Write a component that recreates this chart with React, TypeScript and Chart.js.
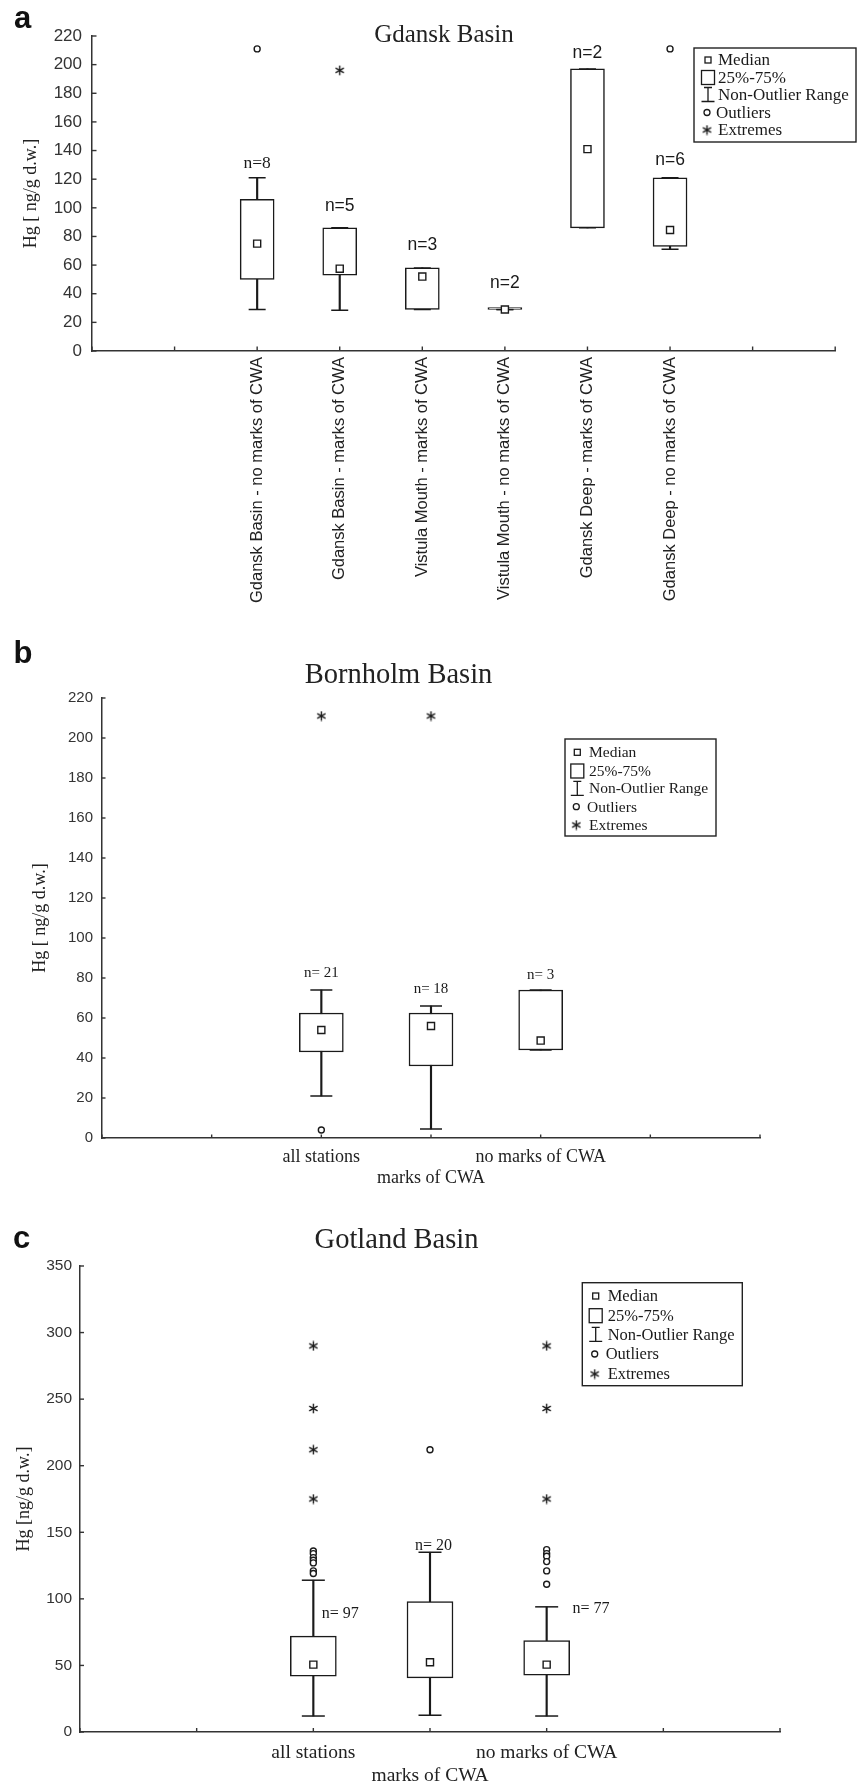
import React, { useEffect, useRef } from 'react';
import { Chart, registerables } from 'chart.js';

Chart.register(...registerables);

const SANS = '"Liberation Sans", Arial, sans-serif';
const SERIF = '"Liberation Serif", "Times New Roman", serif';

// ---------------- Panel a: Gdansk Basin ----------------
const A_X_TICKS = [0, 1, 2, 3, 4, 5, 6, 7, 8, 9];
const A_Y_TICKS = [0, 20, 40, 60, 80, 100, 120, 140, 160, 180, 200, 220];
const A_POSITIONS = [2, 3, 4, 5, 6, 7];
const A_CATEGORIES = [
  'Gdansk Basin - no marks of CWA',
  'Gdansk Basin - marks of CWA',
  'Vistula Mouth - marks of CWA',
  'Vistula Mouth - no marks of CWA',
  'Gdansk Deep - marks of CWA',
  'Gdansk Deep - no marks of CWA',
];
const A_MIN = [29, 28.5, 29, 29, 86, 71];
const A_Q1 = [50, 53, 29, 29, 86, 73];
const A_MEDIAN = [75, 57.5, 52, 29, 141, 84.5];
const A_Q3 = [106, 86, 58, 29, 197, 121];
const A_MAX = [121, 86, 58, 29, 197, 121];
const A_OUTLIER_X = [2, 7];
const A_OUTLIER_Y = [211, 211];
const A_EXTREME_X = [3];
const A_EXTREME_Y = [196];
const A_N_TEXT = ['n=8', 'n=5', 'n=3', 'n=2', 'n=2', 'n=6'];
const A_N_X = [2, 3, 4, 5, 6, 7];
const A_N_Y = [131, 101, 74, 47.5, 208, 133];

// ---------------- Panel b: Bornholm Basin ----------------
const B_X_TICKS = [0, 1, 2, 3, 4, 5, 6];
const B_Y_TICKS = [0, 20, 40, 60, 80, 100, 120, 140, 160, 180, 200, 220];
const B_POSITIONS = [2, 3, 4];
const B_CATEGORIES = ['all stations', 'marks of CWA', 'no marks of CWA'];
const B_MIN = [21, 4.5, 44];
const B_Q1 = [43, 36, 44];
const B_MEDIAN = [54, 56, 48.7];
const B_Q3 = [62.5, 62.5, 74];
const B_MAX = [74, 66, 74];
const B_OUTLIER_X = [2];
const B_OUTLIER_Y = [4];
const B_EXTREME_X = [2, 3];
const B_EXTREME_Y = [211, 211];
const B_N_TEXT = ['n= 21', 'n= 18', 'n= 3'];
const B_N_X = [2, 3, 4];
const B_N_Y = [82.5, 74.5, 81.5];

// ---------------- Panel c: Gotland Basin ----------------
const C_X_TICKS = [0, 1, 2, 3, 4, 5, 6];
const C_Y_TICKS = [0, 50, 100, 150, 200, 250, 300, 350];
const C_POSITIONS = [2, 3, 4];
const C_CATEGORIES = ['all stations', 'marks of CWA', 'no marks of CWA'];
const C_MIN = [12, 12.6, 12];
const C_Q1 = [42, 40.6, 42.6];
const C_MEDIAN = [50.6, 52.4, 50.6];
const C_Q3 = [72, 98, 68.6];
const C_MAX = [114, 135, 94];
const C_OUTLIER_X = [2, 2, 2, 2, 2, 2, 2, 3, 4, 4, 4, 4, 4, 4];
const C_OUTLIER_Y = [136, 134, 131, 129, 127, 121, 119, 212, 137, 134, 132, 128, 121, 111];
const C_EXTREME_X = [2, 2, 2, 2, 4, 4, 4];
const C_EXTREME_Y = [290, 243, 212, 175, 290, 243, 175];
const C_N_TEXT = ['n= 97', 'n= 20', 'n= 77'];
const C_N_X = [2.23, 3.03, 4.38];
const C_N_Y = [89, 140, 92.5];

const LEGEND_ITEMS = ['Median', '25%-75%', 'Non-Outlier Range', 'Outliers', 'Extremes'];

const PANEL_A = {
  xTicks: A_X_TICKS, yTicks: A_Y_TICKS, positions: A_POSITIONS, categories: A_CATEGORIES,
  min: A_MIN, q1: A_Q1, median: A_MEDIAN, q3: A_Q3, max: A_MAX,
  outX: A_OUTLIER_X, outY: A_OUTLIER_Y, extX: A_EXTREME_X, extY: A_EXTREME_Y,
  nText: A_N_TEXT, nX: A_N_X, nY: A_N_Y,
};
const PANEL_B = {
  xTicks: B_X_TICKS, yTicks: B_Y_TICKS, positions: B_POSITIONS, categories: B_CATEGORIES,
  min: B_MIN, q1: B_Q1, median: B_MEDIAN, q3: B_Q3, max: B_MAX,
  outX: B_OUTLIER_X, outY: B_OUTLIER_Y, extX: B_EXTREME_X, extY: B_EXTREME_Y,
  nText: B_N_TEXT, nX: B_N_X, nY: B_N_Y,
};
const PANEL_C = {
  xTicks: C_X_TICKS, yTicks: C_Y_TICKS, positions: C_POSITIONS, categories: C_CATEGORIES,
  min: C_MIN, q1: C_Q1, median: C_MEDIAN, q3: C_Q3, max: C_MAX,
  outX: C_OUTLIER_X, outY: C_OUTLIER_Y, extX: C_EXTREME_X, extY: C_EXTREME_Y,
  nText: C_N_TEXT, nX: C_N_X, nY: C_N_Y,
};

// ---------------- styles / layout ----------------
const STYLE_A = {
  top: 0, height: 620, yAxisWidth: 92, xAxisHeight: 269, padTop: 36, padRight: 6,
  boxWidth: 34, capHalf: 8.5, tickLen: 4.5,
  yTickFont: { family: SANS, size: 17 }, yTickPad: 10,
  xTickFont: { family: SANS, size: 16.5 }, xTickPad: 6, rotation: 90, staggered: false,
  yTitle: 'Hg [ ng/g d.w.]', yTitleFont: { family: SERIF, size: 18 }, yTitlePad: 20,
  nFonts: [SERIF, SANS, SANS, SANS, SANS, SANS], nSize: 17.5,
  legend: { x1: 694, y1: 48, x2: 856, y2: 142, rows: [60, 77.5, 94.5, 112.5, 130], symX: 708, textX: 718, size: 17 },
};
const STYLE_B = {
  top: 620, height: 590, yAxisWidth: 102, xAxisHeight: 72, padTop: 78, padRight: 101,
  boxWidth: 44, capHalf: 11, tickLen: 3.5,
  yTickFont: { family: SANS, size: 15 }, yTickPad: 9,
  xTickFont: { family: SERIF, size: 18, lineHeight: 1.17 }, xTickPad: 8.5, rotation: 0, staggered: true,
  yTitle: 'Hg [ ng/g d.w.]', yTitleFont: { family: SERIF, size: 18 }, yTitlePad: 29,
  nFonts: [SERIF, SERIF, SERIF], nSize: 15,
  legend: { x1: 565, y1: 119, x2: 716, y2: 216, rows: [132.3, 151, 168.3, 186.7, 205], symX: 577.3, textX: 589, size: 15.5 },
};
const STYLE_C = {
  top: 1210, height: 576, yAxisWidth: 80, xAxisHeight: 54, padTop: 56, padRight: 81,
  boxWidth: 46, capHalf: 11.5, tickLen: 4,
  yTickFont: { family: SANS, size: 15.5 }, yTickPad: 8,
  xTickFont: { family: SERIF, size: 19.5, lineHeight: 1.18 }, xTickPad: 9.5, rotation: 0, staggered: true,
  yTitle: 'Hg [ng/g d.w.]', yTitleFont: { family: SERIF, size: 18 }, yTitlePad: 13,
  nFonts: [SERIF, SERIF, SERIF], nSize: 16,
  legend: { x1: 582.3, y1: 72.7, x2: 742.3, y2: 175.7, rows: [86, 105.7, 124.3, 144, 164], symX: 595.7, textX: 607.7, size: 16.5 },
};

const INK = '#1a1a1a';
const AXIS = '#333';

function makeAsterisk(): HTMLCanvasElement {
  const size = 11;
  const c = document.createElement('canvas');
  c.width = size;
  c.height = size;
  const g = c.getContext('2d')!;
  g.strokeStyle = INK;
  g.lineWidth = 1.4;
  const r = size / 2 - 0.7;
  const cx = size / 2;
  const cy = size / 2;
  [90, 30, 150].forEach((deg) => {
    const a = (deg * Math.PI) / 180;
    g.beginPath();
    g.moveTo(cx - r * Math.cos(a), cy - r * Math.sin(a));
    g.lineTo(cx + r * Math.cos(a), cy + r * Math.sin(a));
    g.stroke();
  });
  return c;
}

function buildConfig(d: any, s: any, star: HTMLCanvasElement): any {
  const boxData = d.positions.map((x: number, i: number) => ({ x, y: [d.q1[i], d.q3[i]] }));
  const stemData = d.positions.map((x: number, i: number) => ({ x, y: [d.min[i], d.max[i]] }));
  const capData = [
    ...d.positions.map((x: number, i: number) => ({ x, y: d.min[i] })),
    ...d.positions.map((x: number, i: number) => ({ x, y: d.max[i] })),
  ];
  const medData = d.positions.map((x: number, i: number) => ({ x, y: d.median[i] }));
  const outData = d.outX.map((x: number, i: number) => ({ x, y: d.outY[i] }));
  const extData = d.extX.map((x: number, i: number) => ({ x, y: d.extY[i] }));

  const overlay = {
    id: 'overlay',
    afterDatasetsDraw(chart: any) {
      const { ctx, chartArea, scales } = chart;
      const xs = scales.x;
      const ys = scales.y;
      ctx.save();
      // inward tick marks
      ctx.strokeStyle = AXIS;
      ctx.lineWidth = 1.4;
      xs.ticks.forEach((t: any) => {
        const px = xs.getPixelForValue(t.value);
        ctx.beginPath();
        ctx.moveTo(px, chartArea.bottom);
        ctx.lineTo(px, chartArea.bottom - s.tickLen);
        ctx.stroke();
      });
      ys.ticks.forEach((t: any) => {
        const py = ys.getPixelForValue(t.value);
        ctx.beginPath();
        ctx.moveTo(chartArea.left, py);
        ctx.lineTo(chartArea.left + s.tickLen, py);
        ctx.stroke();
      });
      // n= labels
      ctx.fillStyle = INK;
      ctx.textAlign = 'center';
      ctx.textBaseline = 'middle';
      d.nText.forEach((txt: string, i: number) => {
        ctx.font = `${s.nSize}px ${s.nFonts[i]}`;
        ctx.fillText(txt, xs.getPixelForValue(d.nX[i]), ys.getPixelForValue(d.nY[i]));
      });
      // legend
      const L = s.legend;
      ctx.strokeStyle = '#222';
      ctx.lineWidth = 1.4;
      ctx.strokeRect(L.x1, L.y1, L.x2 - L.x1, L.y2 - L.y1);
      ctx.lineWidth = 1.3;
      ctx.strokeStyle = INK;
      const sx = L.symX;
      // median square
      ctx.strokeRect(sx - 3, L.rows[0] - 3, 6, 6);
      // box
      ctx.strokeRect(sx - 6.5, L.rows[1] - 7, 13, 14);
      // whisker symbol
      const wy = L.rows[2];
      ctx.beginPath();
      ctx.moveTo(sx - 4, wy - 7);
      ctx.lineTo(sx + 4, wy - 7);
      ctx.moveTo(sx, wy - 7);
      ctx.lineTo(sx, wy + 7);
      ctx.moveTo(sx - 6.5, wy + 7);
      ctx.lineTo(sx + 6.5, wy + 7);
      ctx.stroke();
      // outlier circle
      ctx.beginPath();
      ctx.arc(sx - 1, L.rows[3], 3, 0, Math.PI * 2);
      ctx.stroke();
      // extreme asterisk
      ctx.drawImage(star, sx - 1 - star.width / 2, L.rows[4] - star.height / 2);
      ctx.font = `${L.size}px ${SERIF}`;
      ctx.textAlign = 'left';
      ctx.textBaseline = 'middle';
      LEGEND_ITEMS.forEach((txt, i) => {
        ctx.fillText(txt, i === 3 ? L.textX - 2 : L.textX, L.rows[i] + 1);
      });
      ctx.restore();
    },
  };

  return {
    type: 'bar',
    data: {
      datasets: [
        { type: 'scatter', data: medData, pointStyle: 'rect', pointRadius: 5, pointHoverRadius: 5, backgroundColor: '#fff', borderColor: INK, borderWidth: 1.4, order: 0 },
        { type: 'scatter', data: outData, pointStyle: 'circle', pointRadius: 3, pointHoverRadius: 3, backgroundColor: '#fff', borderColor: INK, borderWidth: 1.4, order: 0 },
        { type: 'scatter', data: extData, pointStyle: star, pointRadius: 5, pointHoverRadius: 5, order: 0 },
        { type: 'bar', data: boxData, grouped: false, barThickness: s.boxWidth, backgroundColor: '#fff', borderColor: INK, borderWidth: 1.5, borderSkipped: false, minBarLength: 2, order: 1 },
        { type: 'scatter', data: capData, pointStyle: 'line', pointRadius: s.capHalf, pointHoverRadius: s.capHalf, borderColor: INK, borderWidth: 1.5, order: 2 },
        { type: 'bar', data: stemData, grouped: false, barThickness: 1.5, backgroundColor: INK, borderWidth: 0, order: 3 },
      ],
    },
    options: {
      animation: false,
      responsive: false,
      maintainAspectRatio: false,
      devicePixelRatio: 1,
      events: [],
      layout: { padding: { top: s.padTop, right: s.padRight, left: 0, bottom: 0 } },
      plugins: { legend: { display: false }, tooltip: { enabled: false }, title: { display: false } },
      scales: {
        x: {
          type: 'linear',
          offset: false,
          min: d.xTicks[0],
          max: d.xTicks[d.xTicks.length - 1],
          afterBuildTicks: (sc: any) => {
            sc.ticks = d.xTicks.map((v: number) => ({ value: v }));
          },
          afterFit: (sc: any) => {
            sc.height = s.xAxisHeight;
          },
          grid: { display: false, drawTicks: false },
          border: { display: true, color: AXIS, width: 1.5 },
          ticks: {
            autoSkip: false,
            minRotation: s.rotation,
            maxRotation: s.rotation,
            padding: s.xTickPad,
            color: '#222',
            font: s.xTickFont,
            callback: (value: number) => {
              const i = d.positions.indexOf(value);
              if (i < 0) return '';
              const label = d.categories[i];
              return s.staggered && i % 2 === 1 ? ['', label] : label;
            },
          },
        },
        y: {
          type: 'linear',
          min: d.yTicks[0],
          max: d.yTicks[d.yTicks.length - 1],
          afterBuildTicks: (sc: any) => {
            sc.ticks = d.yTicks.map((v: number) => ({ value: v }));
          },
          afterFit: (sc: any) => {
            sc.width = s.yAxisWidth;
          },
          grid: { display: false, drawTicks: false },
          border: { display: true, color: AXIS, width: 1.5 },
          ticks: { padding: s.yTickPad, color: '#333', font: s.yTickFont },
          title: {
            display: true,
            text: s.yTitle,
            color: '#222',
            font: s.yTitleFont,
            padding: { top: s.yTitlePad, bottom: 0 },
          },
        },
      },
    },
    plugins: [overlay],
  };
}

function Panel({ data, style }: { data: any; style: any }) {
  const ref = useRef<HTMLCanvasElement>(null);
  useEffect(() => {
    const star = makeAsterisk();
    const chart = new Chart(ref.current as HTMLCanvasElement, buildConfig(data, style, star));
    return () => chart.destroy();
  }, []);
  return (
    <canvas
      ref={ref}
      width={861}
      height={style.height}
      style={{ position: 'absolute', left: 0, top: style.top, width: 861, height: style.height, display: 'block' }}
    />
  );
}

const letterStyle = (left: number, top: number): React.CSSProperties => ({
  position: 'absolute', left, top, font: `bold 31px ${SANS}`, lineHeight: 1, color: '#111', whiteSpace: 'nowrap',
});
const titleStyle = (cx: number, top: number, size: number): React.CSSProperties => ({
  position: 'absolute', left: cx, top, transform: 'translateX(-50%)', font: `${size}px ${SERIF}`, lineHeight: 1, color: '#222', whiteSpace: 'nowrap',
});

export default function App() {
  return (
    <div style={{ position: 'absolute', left: 0, top: 0, width: 861, height: 1786, background: '#fff', overflow: 'hidden' }}>
      <Panel data={PANEL_A} style={STYLE_A} />
      <Panel data={PANEL_B} style={STYLE_B} />
      <Panel data={PANEL_C} style={STYLE_C} />
      <div style={letterStyle(14, 2)}>a</div>
      <div style={letterStyle(13.5, 637)}>b</div>
      <div style={letterStyle(13, 1222)}>c</div>
      <div style={titleStyle(444, 21, 25)}>Gdansk Basin</div>
      <div style={titleStyle(398.5, 660, 28.5)}>Bornholm Basin</div>
      <div style={titleStyle(396.5, 1224.5, 28.5)}>Gotland Basin</div>
    </div>
  );
}
